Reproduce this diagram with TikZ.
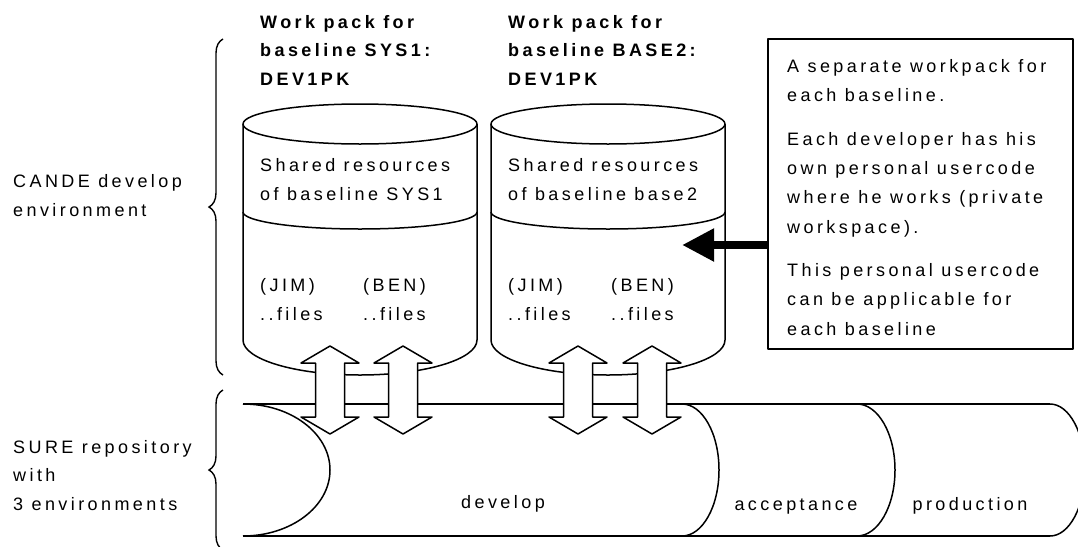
\documentclass[tikz,border=0pt]{standalone}
\usepackage{fontspec}
\setmainfont{Liberation Sans}[LetterSpace=19]
\usetikzlibrary{arrows.meta,decorations.pathreplacing}

\tikzset{
  x=1pt, y=1pt,
  outline/.style={line width=1.5pt, line join=round},
  % multi-line texts are placed by the baseline of their last line
  txt/.style={inner sep=0pt, anchor=base west, align=left,
              font=\fontsize{18}{28.5}\selectfont},
  ttl/.style={txt, font=\fontsize{18}{28.5}\selectfont\bfseries},
  notetxt/.style={txt, font=\fontsize{18}{29.3}\selectfont},
  envtxt/.style={inner sep=0pt, anchor=base, font=\fontsize{18}{22}\selectfont},
  updown/.style={outline, fill=white},
  pointer/.style={line width=8pt, -{Triangle[length=32pt,width=31pt]}},
  curly/.style={line width=1.4pt, decorate, decoration={brace, amplitude=14pt}},
}

\begin{document}
\begin{tikzpicture}
\useasboundingbox (0,0) rectangle (1078,-546);
\clip (0,0) rectangle (1078,-546);

% --- left labels with braces ---
\node[txt] (cande) at (13,-216) {CANDE develop\\environment};
\node[txt] (sure)  at (13,-510) {SURE repository\\with\\3 environments};
\draw[curly] (223,-375) -- (223,-39);
\draw[curly] (223,-550) -- (223,-390);

% --- workpack titles ---
\node[ttl] (title1) at (260,-85) {Work pack for\\baseline SYS1:\\DEV1PK};
\node[ttl] (title2) at (508,-85) {Work pack for\\baseline BASE2:\\DEV1PK};

% --- workpack cylinders ---
\foreach \cx/\nm in {360/sys, 608/base} {
  \fill[white] (\cx-117,-124) -- (\cx-117,-340)
     arc[start angle=180, end angle=360, x radius=117, y radius=35]
     -- (\cx+117,-124) -- cycle;
  \draw[outline] (\cx-117,-124) -- (\cx-117,-340)
     arc[start angle=180, end angle=360, x radius=117, y radius=35]
     -- (\cx+117,-124);
  \draw[outline, fill=white] (\cx,-124) ellipse[x radius=117, y radius=20];
  \draw[outline] (\cx-117,-212)
     arc[start angle=180, end angle=360, x radius=117, y radius=17];
  \coordinate (\nm) at (\cx,-124);
}

\node[txt] (shared1) at (260,-200) {Shared resources\\of baseline SYS1};
\node[txt] (shared2) at (508,-200) {Shared resources\\of baseline base2};
\node[txt] (jim1) at (260,-320) {(JIM)\\..files};
\node[txt] (ben1) at (363,-320) {(BEN)\\..files};
\node[txt] (jim2) at (508,-320) {(JIM)\\..files};
\node[txt] (ben2) at (611,-320) {(BEN)\\..files};

% --- SURE repository: horizontal cylinder in three environments ---
\draw[outline] (243,-404) -- (1050,-404);
\draw[outline] (243,-536) -- (1050,-536);
\draw[outline] (243,-404)
   arc[start angle=90, end angle=-90, x radius=87, y radius=66];
\draw[outline] (682,-404)
   arc[start angle=90, end angle=-90, x radius=37, y radius=66];
\draw[outline] (857,-404)
   arc[start angle=90, end angle=-90, x radius=38, y radius=66];
\draw[outline] (1050,-404)
   arc[start angle=90, end angle=-90, x radius=35, y radius=66];

\node[envtxt] (develop) at (503,-508) {develop};
\node[envtxt] (accept) at (796,-510) {acceptance};
\node[envtxt] (prod) at (970,-510) {production};

% --- check-in / check-out arrows between workpacks and repository ---
\foreach \c in {330, 403, 578, 652} {
  \draw[updown] (\c,-346) -- (\c+29,-363) -- (\c+14.5,-363) -- (\c+14.5,-417)
     -- (\c+29,-417) -- (\c,-434) -- (\c-29,-417) -- (\c-14.5,-417)
     -- (\c-14.5,-363) -- (\c-29,-363) -- cycle;
}

% --- explanatory note ---
\draw[outline] (768,-39) rectangle (1073,-349);
\coordinate (note) at (768,-245);
\node[notetxt] (notetext) at (787,-335)
  {A separate workpack for\\each baseline.\\[14pt]
   Each developer has his\\own personal usercode\\where he works (private\\workspace).\\[14pt]
   This personal usercode\\can be applicable for\\each baseline};
\coordinate (ptr) at (682,-245);
\draw[pointer] (note) -- (ptr);
\end{tikzpicture}
\end{document}
